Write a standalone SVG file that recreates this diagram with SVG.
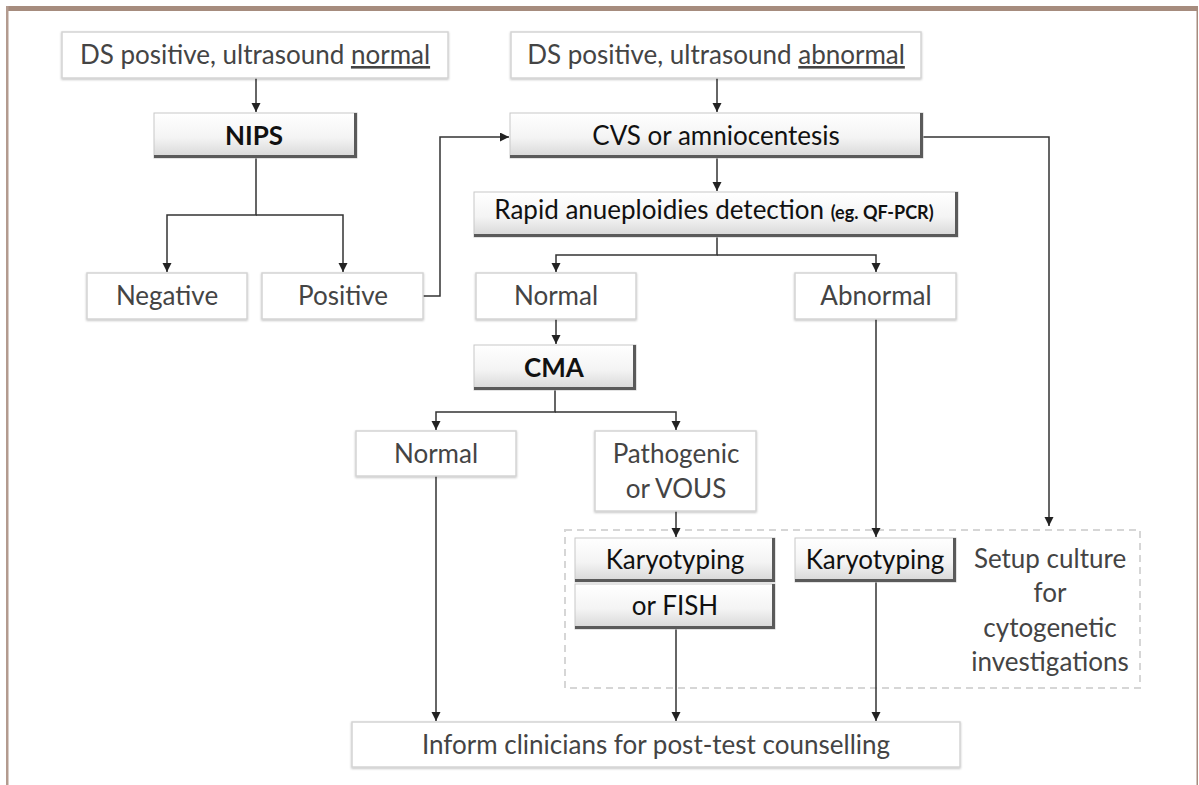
<svg xmlns="http://www.w3.org/2000/svg" width="1199" height="785" viewBox="0 0 1199 785">
<defs>
<linearGradient id="btn" x1="0" y1="0" x2="0" y2="1">
<stop offset="0" stop-color="#ffffff"/>
<stop offset="0.55" stop-color="#f4f4f4"/>
<stop offset="1" stop-color="#d6d6d6"/>
</linearGradient>
<filter id="sh" x="-5%" y="-10%" width="110%" height="125%">
<feDropShadow dx="0" dy="1" stdDeviation="1.2" flood-color="#000" flood-opacity="0.25"/>
</filter>
<marker id="ah" markerUnits="userSpaceOnUse" markerWidth="10" markerHeight="10" refX="9" refY="4.5" orient="auto">
<path d="M0,0 L9,4.5 L0,9 z" fill="#222"/>
</marker>
<style>
.plain{fill:#fff;stroke:#d4d4d4;stroke-width:1.5;filter:url(#sh)}
.btn{fill:url(#btn);stroke:#c8c8c8;stroke-width:1}
.bev{fill:none;stroke:#5a5a5a;stroke-width:3}
.t{font-family:Lato,"Liberation Sans",sans-serif;font-size:26px;fill:#444;text-anchor:middle}
.bt{font-family:Lato,"Liberation Sans",sans-serif;font-size:26px;fill:#111;text-anchor:middle}
.b{font-weight:bold}
.con{fill:none;stroke:#333;stroke-width:1.5}
.arr{marker-end:url(#ah)}
</style>
</defs>
<rect width="1199" height="785" fill="#fff"/>
<g id="frame">
<rect x="6" y="6" width="1192" height="5" fill="#a68c7e"/>
<rect x="6" y="6" width="2.5" height="779" fill="#b39b8f"/>
<rect x="1196.5" y="6" width="1.5" height="779" fill="#a68c7e"/>
</g>
<g id="group-box">
<rect x="565" y="530" width="575" height="158" fill="none" stroke="#d6d6d6" stroke-width="2" stroke-dasharray="7,5"/>
</g>
<g id="connectors">
<path class="con arr" d="M256,78 V112"/>
<path class="con arr" d="M717,78 V112"/>
<path class="con arr" d="M256,158 V215 H167 V272"/>
<path class="con arr" d="M256,215 H343 V272"/>
<path class="con arr" d="M423,296 H440 V137 H509"/>
<path class="con arr" d="M717,158 V191"/>
<path class="con arr" d="M923,137 H1049 V526"/>
<path class="con arr" d="M717,237 V255 H556 V272"/>
<path class="con arr" d="M717,255 H876 V272"/>
<path class="con arr" d="M556,319 V344"/>
<path class="con arr" d="M555,390 V412 H436 V430"/>
<path class="con arr" d="M555,412 H676 V430"/>
<path class="con arr" d="M676,511 V537"/>
<path class="con arr" d="M876,319 V537"/>
<path class="con arr" d="M436,476 V721"/>
<path class="con arr" d="M676,628 V721"/>
<path class="con arr" d="M876,582 V721"/>
</g>
<g id="ds-normal">
<rect class="plain" x="62" y="32" width="386" height="46"/>
<text class="t" x="255" y="64">DS positive, ultrasound <tspan text-decoration="underline">normal</tspan></text>
</g>
<g id="ds-abnormal">
<rect class="plain" x="511" y="32" width="410" height="46"/>
<text class="t" x="716" y="64">DS positive, ultrasound <tspan text-decoration="underline">abnormal</tspan></text>
</g>
<g id="nips">
<rect class="btn" x="154" y="113" width="203" height="45"/>
<path class="bev" d="M355.5,113 V156.5 H154"/>
<text class="bt b" x="254" y="145">NIPS</text>
</g>
<g id="cvs">
<rect class="btn" x="510" y="113" width="413" height="45"/>
<path class="bev" d="M921.5,113 V156.5 H510"/>
<text class="bt" x="716" y="145">CVS or amniocentesis</text>
</g>
<g id="rapid">
<rect class="btn" x="474" y="192" width="484" height="45"/>
<path class="bev" d="M956.5,192 V235.5 H474"/>
<text class="bt" x="714" y="219">Rapid anueploidies detection <tspan class="b" font-size="18px">(eg. QF-PCR)</tspan></text>
</g>
<g id="negative">
<rect class="plain" x="87" y="273" width="160" height="46"/>
<text class="t" x="167" y="305">Negative</text>
</g>
<g id="positive">
<rect class="plain" x="262" y="273" width="161" height="46"/>
<text class="t" x="343" y="305">Positive</text>
</g>
<g id="normal-1">
<rect class="plain" x="476" y="273" width="160" height="46"/>
<text class="t" x="556" y="305">Normal</text>
</g>
<g id="abnormal">
<rect class="plain" x="795" y="273" width="161" height="46"/>
<text class="t" x="876" y="305">Abnormal</text>
</g>
<g id="cma">
<rect class="btn" x="474" y="345" width="162" height="45"/>
<path class="bev" d="M634.5,345 V388.5 H474"/>
<text class="bt b" x="554" y="377">CMA</text>
</g>
<g id="normal-2">
<rect class="plain" x="356" y="431" width="160" height="45"/>
<text class="t" x="436" y="463">Normal</text>
</g>
<g id="pathogenic">
<rect class="plain" x="595" y="431" width="161" height="80"/>
<text class="t" x="676" y="463">Pathogenic</text>
<text class="t" x="676" y="498">or VOUS</text>
</g>
<g id="karyo-fish">
<rect class="btn" x="575" y="538" width="200" height="44"/>
<path class="bev" d="M773.5,538 V580.5 H575"/>
<text class="bt" x="675" y="569">Karyotyping</text>
<rect class="btn" x="575" y="584" width="200" height="45"/>
<path class="bev" d="M773.5,584 V627.5 H575"/>
<text class="bt" x="675" y="615">or FISH</text>
</g>
<g id="karyo">
<rect class="btn" x="795" y="538" width="161" height="44"/>
<path class="bev" d="M954.5,538 V580.5 H795"/>
<text class="bt" x="875" y="569">Karyotyping</text>
</g>
<g id="setup-culture">
<text class="t" x="1050" y="568">Setup culture</text>
<text class="t" x="1050" y="602">for</text>
<text class="t" x="1050" y="637">cytogenetic</text>
<text class="t" x="1050" y="671">investigations</text>
</g>
<g id="inform">
<rect class="plain" x="352" y="722" width="608" height="45"/>
<text class="t" x="656" y="754">Inform clinicians for post-test counselling</text>
</g>
</svg>
